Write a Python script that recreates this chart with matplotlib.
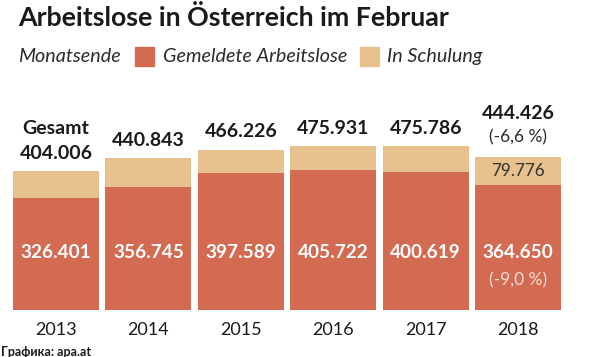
import matplotlib
matplotlib.use("Agg")
import matplotlib.pyplot as plt

years = ["2013", "2014", "2015", "2016", "2017", "2018"]
gesamt = [404006, 440843, 466226, 475931, 475786, 444426]
gemeldet = [326401, 356745, 397589, 405722, 400619, 364650]
schulung = [g - a for g, a in zip(gesamt, gemeldet)]
gesamt_labels = ["404.006", "440.843", "466.226", "475.931", "475.786", "444.426"]
gemeldet_labels = ["326.401", "356.745", "397.589", "405.722", "400.619", "364.650"]

RED = "#D36A52"
BEIGE = "#E7C18D"
DARK = "#1A1A1A"
GREY = "#2B2B2B"
FONT = "Lato"

W, H = 600, 357
fig = plt.figure(figsize=(6, 3.57), dpi=100)
BOTTOM = 310
SCALE = 0.000344
ax = fig.add_axes([0, (H - BOTTOM) / H, 1, BOTTOM / H])
ax.set_xlim(-0.606, 5.887)
ax.set_ylim(0, BOTTOM / SCALE)
ax.axis("off")

x = list(range(len(years)))
ax.bar(x, gemeldet, width=0.932, color=RED, linewidth=0)
ax.bar(x, schulung, bottom=gemeldet, width=0.932, color=BEIGE, linewidth=0)


def lab(i, y, s, dy, **kw):
    ax.annotate(s, (i, y), xytext=(0, dy), textcoords="offset pixels",
                ha="center", va="center", family=FONT, annotation_clip=False, **kw)


for i in x:
    if i == 0:
        lab(i, gesamt[i], "Gesamt", 43, fontsize=14, fontweight="bold", color=DARK)
        lab(i, gesamt[i], gesamt_labels[i], 18, fontsize=14, fontweight="bold", color=DARK)
    elif i == 5:
        lab(i, gesamt[i], gesamt_labels[i], 44, fontsize=14, fontweight="bold", color=DARK)
        lab(i, gesamt[i], "(-6,6 %)", 20, fontsize=12.5, color=GREY)
    else:
        lab(i, gesamt[i], gesamt_labels[i], 18, fontsize=14, fontweight="bold", color=DARK)
    lab(i, 0, gemeldet_labels[i], 57, fontsize=13.7, fontweight="bold", color="white")
    lab(i, 0, years[i], -20, fontsize=13, color=DARK)

lab(5, gemeldet[5] + schulung[5] / 2, "79.776", 0, fontsize=12.4, color="#333333")
lab(5, 0, "(-9,0 %)", 30, fontsize=12.5, color="#F3DCD4")

# title and legend
fig.text(18 / W, 1 - 17 / H, "Arbeitslose in Österreich im Februar", ha="left", va="center",
         fontsize=19.3, fontweight="bold", color=DARK, family=FONT)
LY = 1 - 56.5 / H
fig.text(18 / W, LY, "Monatsende", ha="left", va="center", fontsize=14.2,
         style="italic", color=GREY, family=FONT)
fig.patches.append(plt.Rectangle((135 / W, 1 - 66 / H), 19 / W, 19 / H, transform=fig.transFigure,
                                 color=RED, figure=fig))
fig.text(163 / W, LY, "Gemeldete Arbeitslose", ha="left", va="center", fontsize=14.2,
         style="italic", color=GREY, family=FONT)
fig.patches.append(plt.Rectangle((360 / W, 1 - 66 / H), 19 / W, 19 / H, transform=fig.transFigure,
                                 color=BEIGE, figure=fig))
fig.text(387 / W, LY, "In Schulung", ha="left", va="center", fontsize=14.2,
         style="italic", color=GREY, family=FONT)

fig.text(1 / W, 1 - 352 / H, "Графика: apa.at", ha="left", va="center", fontsize=9,
         fontweight="bold", color=DARK, family=FONT)

fig.savefig("out.png", dpi=100, facecolor="white")
